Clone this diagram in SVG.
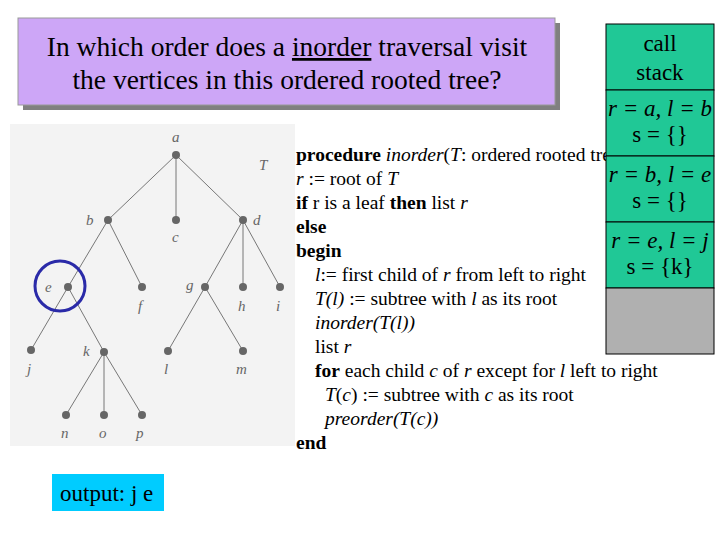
<svg xmlns="http://www.w3.org/2000/svg" width="720" height="540" viewBox="0 0 720 540">
<style>
.t{font-family:"Liberation Serif",serif;fill:#000}
.c{font-size:19.5px}
.e{stroke:#777;stroke-width:1}
.n{fill:#666}
.lb{font-family:"Liberation Serif",serif;font-style:italic;font-size:15px;fill:#666}
.s{fill:#20C896;stroke:#000;stroke-width:1}
.st{font-family:"Liberation Serif",serif;font-size:23px;text-anchor:middle}
</style>
<rect width="720" height="540" fill="#fff"/>
<g id="title">
<rect x="23" y="23" width="537" height="87" fill="#808080"/>
<rect x="18" y="18" width="537" height="87" fill="#CDA6F7" stroke="#999"/>
<text class="t" x="287" y="56" font-size="27.5" text-anchor="middle">In which order does a <tspan text-decoration="underline">inorder</tspan> traversal visit</text>
<text class="t" x="287" y="89" font-size="27.5" text-anchor="middle">the vertices in this ordered rooted tree?</text>
</g>
<g id="tree">
<rect x="10" y="124" width="285" height="322" fill="#f3f3f3"/>
<g class="e">
<line x1="176" y1="155" x2="108" y2="220"/><line x1="176" y1="155" x2="176" y2="220"/><line x1="176" y1="155" x2="243" y2="220"/>
<line x1="108" y1="220" x2="68" y2="287"/><line x1="108" y1="220" x2="142" y2="287"/>
<line x1="243" y1="220" x2="205" y2="287"/><line x1="243" y1="220" x2="243" y2="287"/><line x1="243" y1="220" x2="280" y2="287"/>
<line x1="68" y1="287" x2="31" y2="350"/><line x1="68" y1="287" x2="104" y2="352"/>
<line x1="205" y1="287" x2="168" y2="351"/><line x1="205" y1="287" x2="243" y2="351"/>
<line x1="104" y1="352" x2="66" y2="415"/><line x1="104" y1="352" x2="104" y2="415"/><line x1="104" y1="352" x2="142" y2="415"/>
</g>
<g class="n">
<circle cx="176" cy="155" r="4"/><circle cx="108" cy="220" r="4"/><circle cx="176" cy="220" r="4"/><circle cx="243" cy="220" r="4"/>
<circle cx="68" cy="287" r="4"/><circle cx="142" cy="287" r="4"/><circle cx="205" cy="287" r="4"/><circle cx="243" cy="287" r="4"/><circle cx="280" cy="287" r="4"/>
<circle cx="31" cy="350" r="4"/><circle cx="104" cy="352" r="4"/><circle cx="168" cy="351" r="4"/><circle cx="243" cy="351" r="4"/>
<circle cx="66" cy="415" r="4"/><circle cx="104" cy="415" r="4"/><circle cx="142" cy="415" r="4"/>
</g>
<text class="lb" x="172" y="142">a</text><text class="lb" x="259" y="170" fill="#999">T</text>
<text class="lb" x="86" y="225">b</text><text class="lb" x="172" y="242">c</text><text class="lb" x="253" y="225">d</text>
<text class="lb" x="45" y="292">e</text><text class="lb" x="138" y="311">f</text><text class="lb" x="186" y="290">g</text><text class="lb" x="238" y="311">h</text><text class="lb" x="276" y="311">i</text>
<text class="lb" x="27" y="374">j</text><text class="lb" x="83" y="356">k</text><text class="lb" x="164" y="374">l</text><text class="lb" x="236" y="374">m</text>
<text class="lb" x="61" y="438">n</text><text class="lb" x="99" y="438">o</text><text class="lb" x="136" y="438">p</text>
<circle cx="60" cy="286" r="25" fill="none" stroke="#2A2AA8" stroke-width="3"/>
</g>
<g id="code" class="t c">
<text x="296" y="161"><tspan font-weight="bold">procedure</tspan> <tspan font-style="italic">inorder</tspan>(<tspan font-style="italic">T</tspan>: ordered rooted tree)</text>
<text x="296" y="185"><tspan font-style="italic">r</tspan> := root of <tspan font-style="italic">T</tspan></text>
<text x="296" y="209"><tspan font-weight="bold">if</tspan> r is a leaf <tspan font-weight="bold">then</tspan> list <tspan font-style="italic">r</tspan></text>
<text x="296" y="233" font-weight="bold">else</text>
<text x="296" y="257" font-weight="bold">begin</text>
<text x="315" y="281"><tspan font-style="italic">l</tspan>:= first child of <tspan font-style="italic">r</tspan> from left to right</text>
<text x="315" y="305"><tspan font-style="italic">T(l)</tspan> := subtree with <tspan font-style="italic">l</tspan> as its root</text>
<text x="315" y="329" font-style="italic">inorder(T(l))</text>
<text x="315" y="353">list <tspan font-style="italic">r</tspan></text>
<text x="315" y="377"><tspan font-weight="bold">for</tspan> each child <tspan font-style="italic">c</tspan> of <tspan font-style="italic">r</tspan> except for <tspan font-style="italic">l</tspan> left to right</text>
<text x="325" y="401"><tspan font-style="italic">T</tspan>(<tspan font-style="italic">c</tspan>) := subtree with <tspan font-style="italic">c</tspan> as its root</text>
<text x="325" y="425" font-style="italic">preorder(T(c))</text>
<text x="296" y="449" font-weight="bold">end</text>
</g>
<g id="stack">
<rect class="s" x="606" y="24" width="108" height="66"/>
<rect class="s" x="606" y="90" width="108" height="66"/>
<rect class="s" x="606" y="156" width="108" height="66"/>
<rect class="s" x="606" y="222" width="108" height="66"/>
<rect x="606" y="288" width="108" height="66" fill="#B0B0B0" stroke="#000"/>
<text class="st" x="660" y="51">call</text><text class="st" x="660" y="80">stack</text>
<text class="st" x="660" y="116" font-style="italic">r = a, l = b</text><text class="st" x="660" y="142">s = {}</text>
<text class="st" x="660" y="182" font-style="italic">r = b, l = e</text><text class="st" x="660" y="208">s = {}</text>
<text class="st" x="660" y="248" font-style="italic">r = e, l = j</text><text class="st" x="660" y="274">s = {k}</text>
</g>
<g id="output">
<rect x="52" y="474" width="112" height="37" fill="#00CCFF"/>
<text class="t" x="60" y="501" font-size="23">output: j e</text>
</g>
</svg>
